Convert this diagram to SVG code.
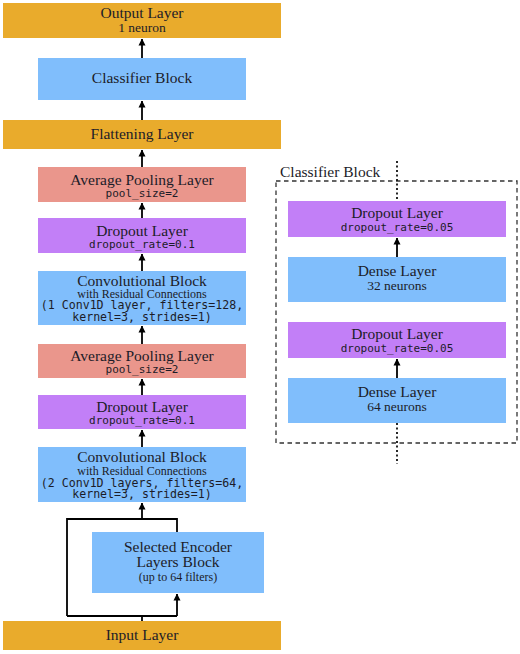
<svg xmlns="http://www.w3.org/2000/svg" width="520" height="654" viewBox="0 0 520 654">
<defs>
<marker id="ah" markerWidth="7" markerHeight="8" refX="6.5" refY="3.5" orient="auto" markerUnits="userSpaceOnUse" viewBox="0 0 7 7">
<path d="M0,0 L7,3.5 L0,7 Z" fill="#000"/>
</marker>
<style>
.or{fill:#E9AB2C}
.bl{fill:#80BEFC}
.sa{fill:#EA968C}
.pu{fill:#C27FF7}
.t{font-family:"Liberation Serif","DejaVu Serif",serif;font-size:15.5px;fill:#1c1c28;text-anchor:middle}
.s{font-family:"Liberation Serif","DejaVu Serif",serif;font-size:13.5px;fill:#1c1c28;text-anchor:middle}
.w{font-family:"Liberation Serif","DejaVu Serif",serif;font-size:12px;fill:#1c1c28;text-anchor:middle}
.m{font-family:"DejaVu Sans Mono","Liberation Mono",monospace;font-size:11px;fill:#1c1c28;text-anchor:middle}
.m2{font-family:"DejaVu Sans Mono","Liberation Mono",monospace;font-size:11.6px;fill:#1c1c28;text-anchor:middle}
.c{stroke:#000;stroke-width:1.8;fill:none}
.a{stroke:#000;stroke-width:1.8;fill:none;marker-end:url(#ah)}
.d{stroke:#111;stroke-width:1.8;fill:none;stroke-dasharray:2 2.5}
</style>
</defs>
<g id="output-layer"><rect class="or" x="3" y="3" width="278" height="35"/><text class="t" x="142" y="18">Output Layer</text><text class="s" x="142" y="32">1 neuron</text></g>
<g id="classifier-block"><rect class="bl" x="38" y="58" width="208" height="42"/><text class="t" x="142" y="83">Classifier Block</text></g>
<g id="flattening-layer"><rect class="or" x="3" y="120" width="278" height="29"/><text class="t" x="142" y="139">Flattening Layer</text></g>
<g id="avgpool-2"><rect class="sa" x="38" y="167" width="208" height="35"/><text class="t" x="142" y="185">Average Pooling Layer</text><text class="m" x="142" y="197">pool_size=2</text></g>
<g id="dropout-2"><rect class="pu" x="38" y="218" width="208" height="35"/><text class="t" x="142" y="236">Dropout Layer</text><text class="m" x="142" y="248">dropout_rate=0.1</text></g>
<g id="conv-block-2"><rect class="bl" x="38" y="271" width="208" height="54"/><text class="t" x="142" y="286">Convolutional Block</text><text class="w" x="142" y="298">with Residual Connections</text><text class="m2" x="142" y="309">(1 Conv1D layer, filters=128,</text><text class="m2" x="142" y="321">kernel=3, strides=1)</text></g>
<g id="avgpool-1"><rect class="sa" x="38" y="344" width="208" height="34"/><text class="t" x="142" y="361">Average Pooling Layer</text><text class="m" x="142" y="373">pool_size=2</text></g>
<g id="dropout-1"><rect class="pu" x="38" y="395" width="208" height="34"/><text class="t" x="142" y="412">Dropout Layer</text><text class="m" x="142" y="424">dropout_rate=0.1</text></g>
<g id="conv-block-1"><rect class="bl" x="38" y="447" width="208" height="55"/><text class="t" x="142" y="462">Convolutional Block</text><text class="w" x="142" y="475">with Residual Connections</text><text class="m2" x="142" y="487">(2 Conv1D layers, filters=64,</text><text class="m2" x="142" y="498">kernel=3, strides=1)</text></g>
<g id="encoder-block"><rect class="bl" x="92" y="532" width="172" height="61"/><text class="t" x="178" y="552">Selected Encoder</text><text class="t" x="178" y="567">Layers Block</text><text class="w" x="178" y="581">(up to 64 filters)</text></g>
<g id="input-layer"><rect class="or" x="3" y="621" width="278" height="29"/><text class="t" x="142" y="640">Input Layer</text></g>
<g id="cb-frame"><rect x="276" y="181" width="241" height="262" fill="none" stroke="#333" stroke-width="1.3" stroke-dasharray="4.5 3.5"/><text x="280" y="177" font-family="'Liberation Serif','DejaVu Serif',serif" font-size="15.5" fill="#1c1c28">Classifier Block</text></g>
<g id="cb-dropout-2"><rect class="pu" x="288" y="201" width="218" height="36"/><text class="t" x="397" y="218">Dropout Layer</text><text class="m" x="397" y="231">dropout_rate=0.05</text></g>
<g id="cb-dense-32"><rect class="bl" x="288" y="257" width="218" height="45"/><text class="t" x="397" y="276">Dense Layer</text><text class="s" x="397" y="290">32 neurons</text></g>
<g id="cb-dropout-1"><rect class="pu" x="288" y="322" width="218" height="36"/><text class="t" x="397" y="339">Dropout Layer</text><text class="m" x="397" y="352">dropout_rate=0.05</text></g>
<g id="cb-dense-64"><rect class="bl" x="288" y="378" width="218" height="45"/><text class="t" x="397" y="397">Dense Layer</text><text class="s" x="397" y="411">64 neurons</text></g>
<g id="connectors">
<line class="a" x1="142" y1="58" x2="142" y2="39"/>
<line class="a" x1="142" y1="120" x2="142" y2="101"/>
<line class="a" x1="142" y1="167" x2="142" y2="150"/>
<line class="a" x1="142" y1="218" x2="142" y2="203"/>
<line class="a" x1="142" y1="271" x2="142" y2="254"/>
<line class="a" x1="142" y1="344" x2="142" y2="326"/>
<line class="a" x1="142" y1="395" x2="142" y2="379"/>
<line class="a" x1="142" y1="447" x2="142" y2="430"/>
<line class="a" x1="142" y1="519" x2="142" y2="503"/>
<polyline class="c" points="142,621 142,616"/>
<polyline class="c" points="67,616 177,616"/>
<polyline class="a" points="177,616 177,594"/>
<polyline class="c" points="67,616 67,519 177,519 177,532"/>
<line class="a" x1="397" y1="257" x2="397" y2="238"/>
<line class="a" x1="397" y1="378" x2="397" y2="359"/>
<line class="d" x1="397" y1="161" x2="397" y2="201"/>
<line class="d" x1="397" y1="423" x2="397" y2="464"/>
</g>
</svg>
